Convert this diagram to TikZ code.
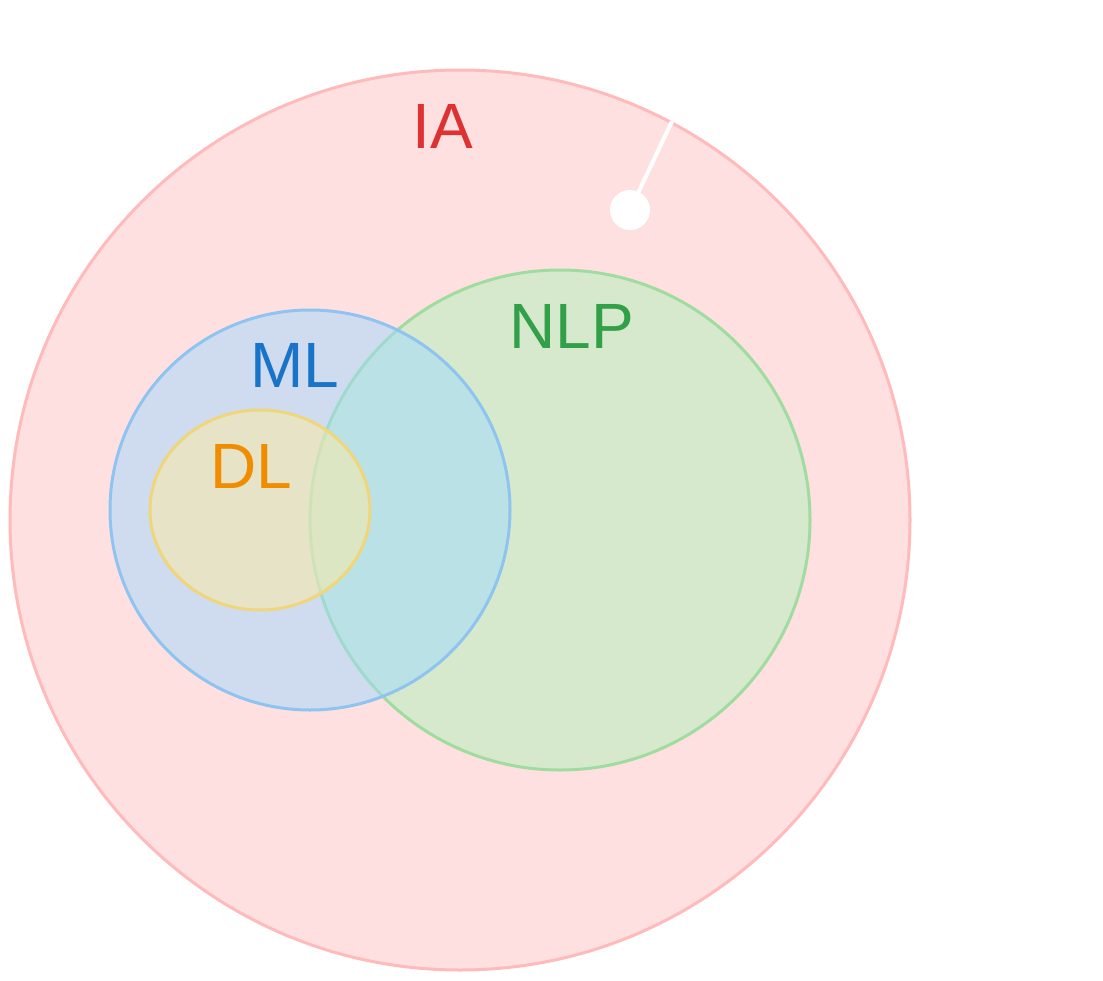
\documentclass[tikz,border=0pt]{standalone}
\usepackage{fontspec}
\setmainfont{Liberation Sans}
\usetikzlibrary{shapes.geometric}
\definecolor{iafill}{RGB}{255,224,224}
\definecolor{iadraw}{RGB}{255,187,187}
\definecolor{iatext}{RGB}{222,50,50}
\definecolor{mlfill}{RGB}{160,218,255}
\definecolor{mldraw}{RGB}{144,196,240}
\definecolor{mltext}{RGB}{25,115,200}
\definecolor{dlfill}{RGB}{255,235,160}
\definecolor{dldraw}{RGB}{240,214,122}
\definecolor{dltext}{RGB}{240,140,0}
\definecolor{nlpfill}{RGB}{175,242,186}
\definecolor{nlpdraw}{RGB}{160,220,160}
\definecolor{nlptext}{RGB}{50,160,72}
\tikzset{
  setc/.style={circle, inner sep=0pt, line width=3pt},
  lbl/.style={anchor=base, inner sep=0pt, font=\fontsize{64}{64}\selectfont},
}
\begin{document}
\begin{tikzpicture}[x=1pt,y=-1pt]
\useasboundingbox (0,0) rectangle (1103,980);
\node[setc, minimum size=900pt, draw=iadraw, fill=iafill] (ia) at (460,520) {};
\node[setc, minimum size=500pt, draw=nlpdraw, fill=nlpfill, fill opacity=0.5] (nlp) at (560,520) {};
\node[setc, minimum size=400pt, draw=mldraw, fill=mlfill, fill opacity=0.5] (ml) at (310,510) {};
\node[ellipse, inner sep=0pt, line width=3pt, minimum width=220pt, minimum height=200pt, draw=dldraw, fill=dlfill, fill opacity=0.5] (dl) at (260,510) {};
\node[circle, inner sep=0pt, minimum size=40pt, fill=white] (dot) at (630,210) {};
\coordinate (pin) at (ia.62.4);
\draw[white, line width=4pt] (dot) -- (pin);
\node[lbl, text=iatext] (tia) at (443,148) {IA};
\node[lbl, text=mltext] (tml) at (295,387) {ML};
\node[lbl, text=dltext] (tdl) at (251,488) {DL};
\node[lbl, text=nlptext] (tnlp) at (571.5,348) {NLP};
\end{tikzpicture}
\end{document}
